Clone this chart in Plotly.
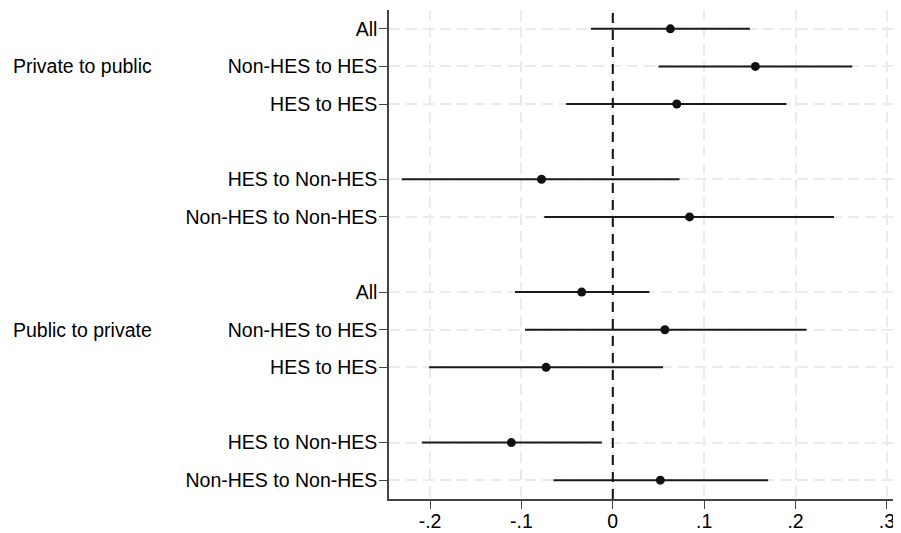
import plotly.graph_objects as go

# ---- data ----
group_names = ["Private to public", "Public to private"]
row_labels = ["All", "Non-HES to HES", "HES to HES", "HES to Non-HES", "Non-HES to Non-HES"]
# per group: estimates and 95% CI bounds (order as row_labels)
est_priv_pub = [0.063, 0.156, 0.070, -0.078, 0.084]
lo_priv_pub = [-0.024, 0.050, -0.051, -0.231, -0.075]
hi_priv_pub = [0.150, 0.262, 0.190, 0.073, 0.242]

est_pub_priv = [-0.034, 0.057, -0.073, -0.111, 0.052]
lo_pub_priv = [-0.107, -0.096, -0.201, -0.209, -0.065]
hi_pub_priv = [0.040, 0.212, 0.055, -0.012, 0.170]

x_ticks = [-0.2, -0.1, 0, 0.1, 0.2, 0.3]
x_tick_labels = ["-.2", "-.1", "0", ".1", ".2", ".3"]

# ---- layout positions (rows top to bottom, with gaps) ----
def group_positions(start):
    return [start, start + 1, start + 2, start + 4, start + 5]

pos = group_positions(0) + group_positions(7)
est = est_priv_pub + est_pub_priv
lo = lo_priv_pub + lo_pub_priv
hi = hi_priv_pub + hi_pub_priv
labels = row_labels + row_labels

# page body has an 8px margin, so the figure is sized to fit the window
W, H = 893, 525
L, R, T, B = 381, 2, 2, 34
plot_w = W - L - R

fig = go.Figure()
fig.add_trace(go.Scatter(
    x=est, y=pos, mode="markers",
    marker=dict(color="#111111", size=9),
    error_x=dict(type="data", symmetric=False,
                 array=[h - e for h, e in zip(hi, est)],
                 arrayminus=[e - l for e, l in zip(est, lo)],
                 width=0, thickness=2, color="#1a1a1a"),
    showlegend=False,
))

fig.add_shape(type="line", x0=0, x1=0, xref="x", y0=0, y1=1, yref="paper",
              line=dict(color="#111111", width=2, dash="10px,7px"), layer="above")

font = dict(family="Liberation Sans, Arial, sans-serif", size=19.5, color="#000000")

for name, p in zip(group_names, [1, 8]):
    fig.add_annotation(x=(3 - L) / plot_w, xref="paper", xanchor="left", y=p, yref="y",
                       text=name, showarrow=False, font=font)

grid = dict(showgrid=True, gridcolor="#ebebeb", griddash="11px,6px", gridwidth=2,
            zeroline=False, showline=True, linecolor="#444444", linewidth=1.5,
            ticks="outside", ticklen=8, tickcolor="#444444", tickfont=font,
            automargin=False)

fig.update_layout(
    width=W, height=H,
    margin=dict(l=L, r=R, t=T, b=B, autoexpand=False),
    paper_bgcolor="white", plot_bgcolor="white",
    font=font,
    xaxis=dict(range=[-0.2449, 0.3132], tickvals=x_ticks, ticktext=x_tick_labels,
               ticklabelstandoff=-4, **grid),
    yaxis=dict(range=[12.5, -0.5], tickvals=pos, ticktext=labels,
               ticklabelstandoff=-2, **grid),
)

fig.write_html("out.html")
